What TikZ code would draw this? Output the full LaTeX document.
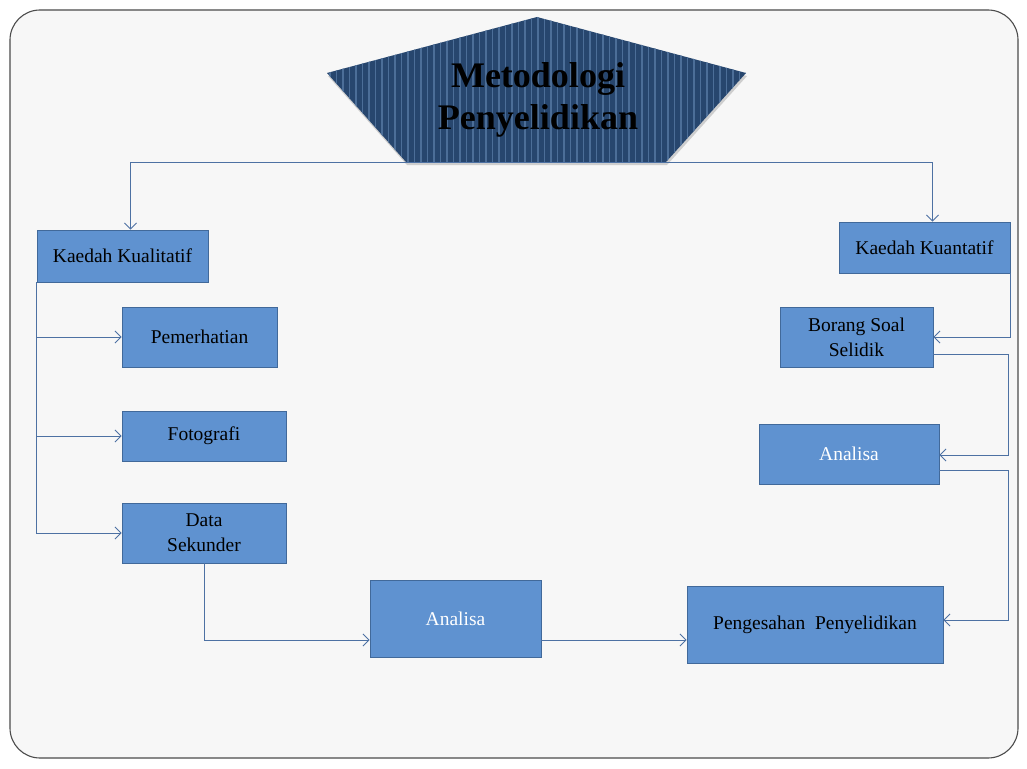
\documentclass[tikz,border=0pt]{standalone}
\usepackage{fontspec}
\setmainfont{Liberation Serif}
\usepackage{xcolor}
\usetikzlibrary{arrows.meta}

\definecolor{boxblue}{HTML}{5F92D0}
\definecolor{boxedge}{HTML}{41699A}
\definecolor{linkblue}{HTML}{4D71A3}
\definecolor{navy}{HTML}{27466E}
\definecolor{navystripe}{HTML}{4C6E98}

\begin{document}
\begin{tikzpicture}[x=1pt,y=-1pt,
  box/.style={draw=boxedge,fill=boxblue,line width=0.9pt,align=center,
    font=\fontsize{19.5}{25}\selectfont,inner sep=0pt},
  whitebox/.style={box,text=white},
  link/.style={linkblue,line width=0.9pt,-{Straight Barb[length=6pt,width=12pt]}}]
  \useasboundingbox (0,0) rectangle (1027,768);
  \fill[white] (0,0) rectangle (1027,768);
  \draw[black!70,fill=black!3,line width=1.1pt,rounded corners=30pt]
    (10,10) rectangle (1018,758);

  % title shape
  \coordinate (ttop) at (537,17);
  \coordinate (tleft) at (327,73);
  \coordinate (tbl) at (406,162);
  \coordinate (tbr) at (666,162);
  \coordinate (tright) at (746,73);
  \fill[black!35,opacity=0.5] ([shift={(1,3)}]ttop) -- ([shift={(1,3)}]tright)
    -- ([shift={(1,3)}]tbr) -- ([shift={(1,3)}]tbl) -- ([shift={(1,3)}]tleft) -- cycle;
  \begin{scope}
    \clip (ttop) -- (tright) -- (tbr) -- (tbl) -- (tleft) -- cycle;
    \fill[navy] (320,10) rectangle (750,170);
    \foreach \x in {330,336.5,...,750}
      \draw[navystripe,line width=1.6pt] (\x,10) -- (\x,170);
  \end{scope}
  \node[align=center,font=\fontsize{36}{42}\selectfont\bfseries] (title)
    at (538,100) {Metodologi\\Penyelidikan};
  \coordinate (hub) at (537,162);

  % boxes
  \node[box,minimum width=171pt,minimum height=52pt] (kual) at (122.5,256) {Kaedah Kualitatif};
  \node[box,minimum width=155pt,minimum height=60pt] (pem) at (199.5,337) {Pemerhatian};
  \node[box,minimum width=164pt,minimum height=50pt] (foto) at (204,436) {Fotografi};
  \node[box,minimum width=164pt,minimum height=60pt] (data) at (204,533) {Data\\Sekunder};
  \node[whitebox,minimum width=171pt,minimum height=77pt] (anal1) at (455.5,618.5) {Analisa};
  \node[box,minimum width=256pt,minimum height=77pt] (sah) at (815,624.5) {Pengesahan\ \ Penyelidikan};
  \node[box,minimum width=171pt,minimum height=51pt] (kuan) at (924.5,247.5) {Kaedah Kuantatif};
  \node[box,minimum width=153pt,minimum height=60pt] (borang) at (856.5,337) {Borang Soal\\Selidik};
  \node[whitebox,minimum width=180pt,minimum height=60pt] (anal2) at (849,454) {Analisa};

  % connectors
  \coordinate (a1out) at ([yshift=-21.5pt]anal1.east);
  \draw[link] (hub) -| ([xshift=8pt]kual.north);
  \draw[link] (hub) -| ([xshift=8pt]kuan.north);
  \draw[link] (kual.south west) |- (data.west);
  \draw[link] (kual.south west |- pem.west) -- (pem.west);
  \draw[link] (kual.south west |- foto.west) -- (foto.west);
  \draw[link] (data.south) |- ([yshift=-21.5pt]anal1.west);
  \draw[link] (a1out) -- (sah.west |- a1out);
  \draw[link] (kuan.south east) |- (borang.east);
  \draw[link] ([yshift=-17pt]borang.east) -- ++(75,0) |- ([yshift=-1pt]anal2.east);
  \draw[link] ([yshift=-16pt]anal2.east) -- ++(69,0) |- ([yshift=4.5pt]sah.east);
\end{tikzpicture}
\end{document}
